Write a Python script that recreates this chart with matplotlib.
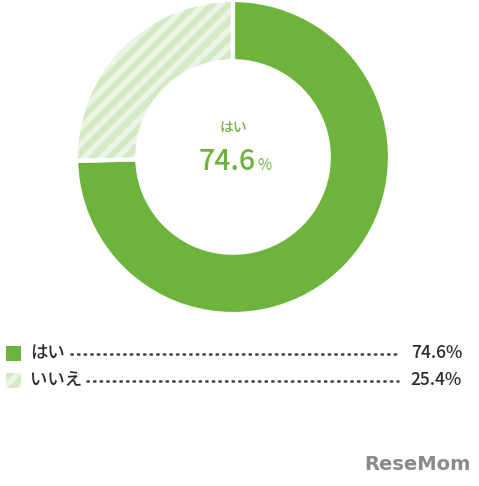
import matplotlib
matplotlib.use("Agg")
import matplotlib.pyplot as plt
from matplotlib.patches import Rectangle
from matplotlib.lines import Line2D

plt.rcParams['font.family'] = ['Noto Sans CJK JP', 'DejaVu Sans']
plt.rcParams['hatch.linewidth'] = 4.5

categories = ["はい", "いいえ"]
values = [74.6, 25.4]
value_labels = ["74.6%", "25.4%"]

GREEN = "#6eb43c"
LIGHT = "#ecf5e5"
STRIPE = "#d5eac4"
TEXT = "#2a2a2a"

W, H = 479, 486
fig = plt.figure(figsize=(W / 100, H / 100), dpi=100)

def fx(x):
    return x / W

def fy(y):
    return 1 - y / H

# donut
cx, cy, r = 233, 157, 157
ax = fig.add_axes([fx(cx - r), fy(cy + r), 2 * r / W, 2 * r / H])

width = 0.39
wedges, _ = ax.pie(values, startangle=90, counterclock=False, radius=1,
                   colors=[GREEN, LIGHT],
                   wedgeprops=dict(width=width, linewidth=0))
wedges[1].set_hatch('//')
wedges[1].set_edgecolor(STRIPE)
wedges[1].set_linewidth(0)
# white separators
ax.pie(values, startangle=90, counterclock=False, radius=1,
       colors=['none', 'none'],
       wedgeprops=dict(width=width, linewidth=3, edgecolor='white', fill=False))
ax.set_xlim(-1, 1)
ax.set_ylim(-1, 1)
ax.set_aspect('equal')
ax.axis('off')

# center text
fig.text(fx(cx), fy(128), categories[0], color=GREEN, fontsize=10,
         ha='center', va='center', fontweight='medium')
fig.text(fx(256), fy(162), value_labels[0][:-1], color=GREEN, fontsize=20.5,
         ha='right', va='center', fontweight='medium')
fig.text(fx(257), fy(166), "%", color=GREEN, fontsize=11,
         ha='left', va='center')

# legend rows
rows_y = [353, 380]
for i, (cat, lab) in enumerate(zip(categories, value_labels)):
    y = rows_y[i]
    sq = 15
    rect = Rectangle((fx(6), fy(y + sq / 2)), sq / W, sq / H,
                     transform=fig.transFigure, facecolor=GREEN if i == 0 else LIGHT,
                     edgecolor=GREEN if i == 0 else STRIPE, linewidth=0,
                     hatch=None if i == 0 else '//')
    fig.add_artist(rect)
    fig.text(fx(30), fy(y), cat, color=TEXT, fontsize=12.5, ha='left', va='center',
             fontweight='medium')
    fig.text(fx(462), fy(y), lab, color=TEXT, fontsize=12.5, ha='right', va='center',
             fontweight='medium')
    x0 = 71 if i == 0 else 87
    fig.add_artist(Line2D([fx(x0), fx(398)], [fy(y + 1), fy(y + 1)],
                          transform=fig.transFigure, color='#444444',
                          linewidth=1.9, linestyle=(0, (0.5, 2.0)),
                          dash_capstyle='round'))

# logo
fig.text(fx(417), fy(464), "ReseMom", color='#8a8a8a', fontsize=14,
         ha='center', va='center', fontweight='bold', family='DejaVu Sans')

fig.savefig("out.png", dpi=100, facecolor='white')
